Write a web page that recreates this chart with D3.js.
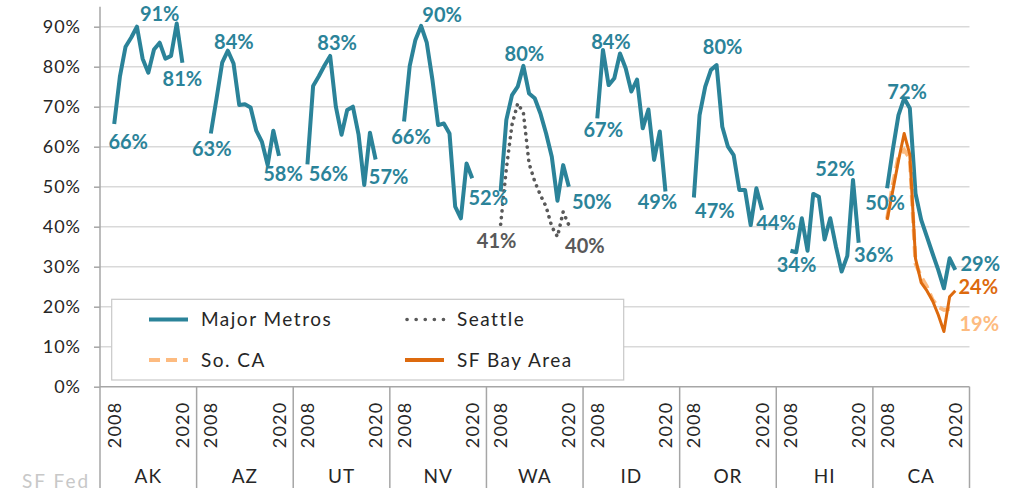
<!DOCTYPE html>
<html lang="en">
<head>
    <meta charset="UTF-8">
    <title>Share by state, 2008-2020</title>
    <script src="https://d3js.org/d3.v7.min.js"></script>
    <style>
        body {
            margin: 0;
            background: #fff;
            font-family: Lato, "Open Sans", sans-serif;
        }
        .tick-label { font-size: 18px; fill: #262626; letter-spacing: 1px; }
        .year-label { font-size: 18px; fill: #262626; letter-spacing: 1.2px; }
        .state-label { font-size: 19px; fill: #262626; letter-spacing: 1px; }
        .legend-text { font-size: 19px; fill: #262626; letter-spacing: 1.5px; }
        .val-label { font-size: 20px; font-weight: 700; }
        .credit { font-size: 19px; fill: #c8c8c8; letter-spacing: 2px; }
    </style>
</head>
<body>
    <svg width="1014" height="496"></svg>
    <script>
        // --- data ---
        const states = ["AK", "AZ", "UT", "NV", "WA", "ID", "OR", "HI", "CA"];
        const years = [2008, 2009, 2010, 2011, 2012, 2013, 2014, 2015, 2016, 2017, 2018, 2019, 2020];
        const yTicks = [0, 0.1, 0.2, 0.3, 0.4, 0.5, 0.6, 0.7, 0.8, 0.9];

        // major metro series, one row per state (same order as states), percent
        const majorMetros = [
            [65.7, 77.5, 85, 87.3, 90, 82, 78.5, 84.3, 86, 82, 82.7, 90.8, 81],      // AK
            [63.3, 72, 81, 84, 80.8, 70.4, 70.6, 69.8, 64, 61.2, 55.4, 64, 57.7],    // AZ
            [55.6, 75.2, 77.6, 80.3, 82.7, 70, 63, 69.2, 70, 63, 50.4, 63.5, 56.8],  // UT
            [66.3, 80.2, 86.7, 90.2, 86, 76.7, 65.4, 65.8, 63.3, 45, 42.1, 55.8, 52.1], // NV
            [48.8, 66.7, 72.9, 75, 80.2, 73.3, 72.1, 68.3, 63.3, 57.5, 46.5, 55.4, 50], // WA
            [67.1, 84.2, 75.4, 77.1, 83.3, 79.6, 73.8, 76.8, 64.6, 69.3, 56.7, 63.8, 48.8], // ID
            [47.3, 67.9, 75, 79.2, 80.4, 65, 60, 57.9, 49.2, 49.2, 40.4, 49.6, 44.2], // OR
            [34, 33.6, 42.1, 34, 48.2, 47.5, 36.8, 42.1, 35, 28.8, 32.7, 51.7, 36],  // HI
            [49.6, 59.2, 67.9, 72.1, 69.6, 48.3, 41.7, 37.5, 33.3, 29.2, 24.6, 32.1, 29.2] // CA
        ];
        const seattle = [40.6, 54.5, 65.5, 70.8, 68.5, 55.8, 51.3, 47.9, 45, 40, 37.5, 43.7, 40.4];
        const soCal = [42, 50.5, 57.5, 59.2, 57.1, 30.8, 27.5, 25, 21.7, 20, 19.2, 19.5, 19];
        const sfBayArea = [41.7, 49, 56.5, 63.3, 58, 32, 26, 24, 21.5, 18, 13.8, 22.5, 24];

        // which points carry a value label: [state, yearIndex, dx, dy]
        const metroLabelSpots = [
            ["AK", 0, 14, 18], ["AK", 11, -17, -10], ["AK", 12, 0, 16],
            ["AZ", 0, 1, 15], ["AZ", 3, 6, -9], ["AZ", 12, 4, 18],
            ["UT", 0, 21, 9], ["UT", 4, 7, -13], ["UT", 12, 13, 17],
            ["NV", 0, 7, 15], ["NV", 3, 21, -11], ["NV", 12, 16, 19],
            ["WA", 4, 1, -12], ["WA", 12, 23, 15],
            ["ID", 0, 6, 11], ["ID", 1, 8, -8], ["ID", 12, -8, 10],
            ["OR", 0, 21, 13], ["OR", 4, 6, -18], ["OR", 12, 14, 13],
            ["HI", 0, 6, 14], ["HI", 11, -18, -11], ["HI", 12, 15, 12],
            ["CA", 0, -2, 14], ["CA", 3, 3, -7], ["CA", 12, 25, -6]
        ];

        const colors = {
            metros: "#2b8399",
            seattle: "#595959",
            soCal: "#fdbb80",
            sfBay: "#dd6a0e"
        };

        // --- layout ---
        const svg = d3.select("svg");
        const left = 100, right = 969.5;
        const plotTop = 6.7, base = 386.7, bottom = 488;

        const y = d3.scaleLinear().domain([0, 0.95]).range([base, plotTop]);
        const xState = d3.scaleBand().domain(states).range([left, right]);
        const xYear = d3.scalePoint().domain(years).range([0, xState.bandwidth()]).padding(2.5);
        const px = (st, j) => xState(st) + xYear(years[j]);
        const pct = d3.format(".0%");

        // gridlines
        svg.append("g").selectAll("line")
            .data(yTicks.filter(d => d > 0))
            .join("line")
            .attr("x1", left).attr("x2", right)
            .attr("y1", d => y(d)).attr("y2", d => y(d))
            .attr("stroke", "#d9d9d9").attr("stroke-width", 1.5);

        // y axis
        const yAxis = svg.append("g")
            .attr("transform", `translate(${left},0)`)
            .call(d3.axisLeft(y).tickValues(yTicks).tickFormat(pct).tickSize(6).tickPadding(13));
        yAxis.select(".domain").remove();
        yAxis.selectAll(".tick line").attr("stroke", "#a6a6a6").attr("stroke-width", 1.5);
        yAxis.selectAll(".tick text").attr("class", "tick-label");
        yAxis.attr("font-family", null).attr("font-size", null);

        svg.append("line")
            .attr("x1", left).attr("x2", left).attr("y1", plotTop).attr("y2", bottom)
            .attr("stroke", "#a6a6a6").attr("stroke-width", 1.5);
        svg.append("line")
            .attr("x1", left).attr("x2", right).attr("y1", base).attr("y2", base)
            .attr("stroke", "#a6a6a6").attr("stroke-width", 1.5);

        // category separators
        svg.append("g").selectAll("line")
            .data(states)
            .join("line")
            .attr("x1", d => xState(d) + xState.bandwidth())
            .attr("x2", d => xState(d) + xState.bandwidth())
            .attr("y1", base).attr("y2", bottom)
            .attr("stroke", "#a6a6a6").attr("stroke-width", 1.5);

        // year labels (first and last only)
        const yearG = svg.append("g");
        states.forEach(st => {
            [0, years.length - 1].forEach(j => {
                yearG.append("text")
                    .attr("class", "year-label")
                    .attr("transform", `translate(${px(st, j) + 6.5},${base + 15}) rotate(-90)`)
                    .attr("text-anchor", "end")
                    .text(years[j]);
            });
        });

        svg.append("g").selectAll("text")
            .data(states)
            .join("text")
            .attr("class", "state-label")
            .attr("x", d => xState(d) + xState.bandwidth() / 2)
            .attr("y", 483)
            .attr("text-anchor", "middle")
            .text(d => d);

        svg.append("text")
            .attr("class", "credit")
            .attr("x", 22).attr("y", 488)
            .text("SF Fed");

        // legend box
        const legend = svg.append("g");
        legend.append("rect")
            .attr("x", 111.7).attr("y", 299.3).attr("width", 512).attr("height", 80.7)
            .attr("fill", "#fff").attr("stroke", "#c8c8c8").attr("stroke-width", 1.2);

        const dotted = "0.1 6.6", dashed = "11 6";
        const legendItems = [
            { name: "Major Metros", color: colors.metros, dash: null, x: 149, y: 319.5 },
            { name: "Seattle", color: colors.seattle, dash: dotted, x: 405, y: 319.5 },
            { name: "So. CA", color: colors.soCal, dash: dashed, x: 149, y: 360 },
            { name: "SF Bay Area", color: colors.sfBay, dash: null, x: 405, y: 360 }
        ];
        legendItems.forEach(it => {
            legend.append("line")
                .attr("x1", it.x + (it.dash === dotted ? 2 : 0)).attr("x2", it.x + 39)
                .attr("y1", it.y).attr("y2", it.y)
                .attr("stroke", it.color)
                .attr("stroke-width", it.dash === dotted ? 3.6 : 4)
                .attr("stroke-linecap", it.dash === dotted ? "round" : "butt")
                .attr("stroke-dasharray", it.dash === dotted ? "0.1 9" : it.dash);
            legend.append("text")
                .attr("class", "legend-text")
                .attr("x", it.x + 52).attr("y", it.y + 6.5)
                .text(it.name);
        });

        // lines
        const line = d3.line().x(d => d[0]).y(d => y(d[1] / 100));
        const pts = (st, vals) => vals.map((v, j) => [px(st, j), v]);

        const lineG = svg.append("g");
        states.forEach((st, i) => {
            lineG.append("path")
                .attr("d", line(pts(st, majorMetros[i])))
                .attr("fill", "none")
                .attr("stroke", colors.metros)
                .attr("stroke-width", 4)
                .attr("stroke-linejoin", "round");
        });
        lineG.append("path")
            .attr("d", line(pts("WA", seattle)))
            .attr("fill", "none").attr("stroke", colors.seattle)
            .attr("stroke-width", 3.6).attr("stroke-linecap", "round")
            .attr("stroke-dasharray", dotted);
        lineG.append("path")
            .attr("d", line(pts("CA", soCal)))
            .attr("fill", "none").attr("stroke", colors.soCal)
            .attr("stroke-width", 4).attr("stroke-dasharray", dashed);
        lineG.append("path")
            .attr("d", line(pts("CA", sfBayArea)))
            .attr("fill", "none").attr("stroke", colors.sfBay)
            .attr("stroke-width", 3).attr("stroke-linejoin", "round");

        // value labels
        const labelG = svg.append("g");
        const addLabel = (st, j, vals, dx, dy, color) => {
            labelG.append("text")
                .attr("class", "val-label")
                .attr("x", px(st, j) + dx)
                .attr("y", y(vals[j] / 100) + dy)
                .attr("dy", "0.36em")
                .attr("text-anchor", "middle")
                .attr("fill", color)
                .text(pct(Math.round(vals[j]) / 100));
        };
        metroLabelSpots.forEach(([st, j, dx, dy]) => {
            addLabel(st, j, majorMetros[states.indexOf(st)], dx, dy, colors.metros);
        });
        addLabel("WA", 0, seattle, -4, 16, colors.seattle);
        addLabel("WA", 12, seattle, 16, 21, colors.seattle);
        addLabel("CA", 12, sfBayArea, 23, -4, colors.sfBay);
        addLabel("CA", 12, soCal, 24, 13, colors.soCal);
    </script>
</body>
</html>
